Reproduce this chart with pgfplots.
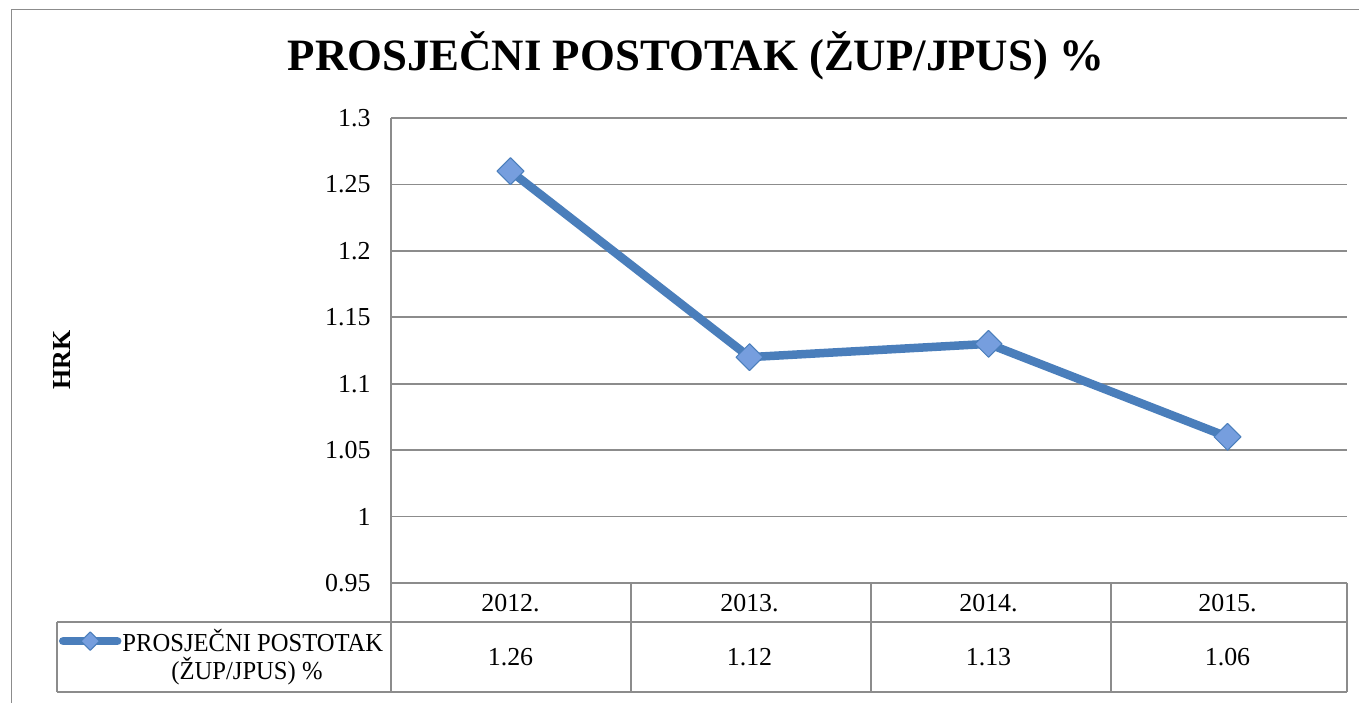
\documentclass[border=0pt]{standalone}
\usepackage{fontspec}
\setmainfont{Liberation Serif}
\newfontfamily\narrow[FakeStretch=0.95]{Liberation Serif}
\usepackage{pgfplots}
\pgfplotsset{compat=1.18}
\definecolor{serie}{RGB}{74,126,187}
\definecolor{mk}{RGB}{118,158,222}
\definecolor{frame}{RGB}{140,140,140}
\newcommand{\tf}{\fontsize{26}{30}\selectfont}
\begin{document}
\begin{tikzpicture}
\path[use as bounding box] (0bp,0bp) rectangle (1359bp,703bp);
\begin{axis}[at={(391bp,120bp)}, anchor=south west, scale only axis,
  width=956bp, height=465bp,
  xmin=-0.5, xmax=3.5, ymin=0.95, ymax=1.3, clip=false,
  /pgf/number format/assume math mode=true,
  xtick={0,1,2,3}, xticklabels={2012.,2013.,2014.,2015.},
  ytick={0.95,1,1.05,1.1,1.15,1.2,1.25,1.3},
  yticklabels={0.95,1,1.05,1.1,1.15,1.2,1.25,1.3},
  major tick length=0pt,
  axis line style={draw=none},
  ymajorgrids, major grid style={line width=1.6bp, draw=frame},
  tick label style={font=\tf},
  yticklabel style={anchor=east, xshift=-17bp},
  xticklabel style={anchor=center, yshift=-20bp},
  ylabel={HRK},
  ylabel style={at={(axis description cs:-0.344,0.48)}, anchor=center, font=\bfseries\tf},
  legend style={at={(-0.3475,-0.125)}, anchor=west, draw=none, fill=none,
    inner sep=0pt, font=\narrow\tf, column sep=0bp, nodes={inner sep=1bp}},
  legend image code/.code={\draw[#1, line cap=round, mark size=6.5bp, mark repeat=2, mark phase=2]
    plot coordinates {(0bp,0bp) (27bp,0bp) (54bp,0bp)};},
]
\addplot[serie, line width=8.5bp, line join=round, mark=square*, mark size=9.5bp,
  mark options={rotate=45, fill=mk, draw=serie, line width=1bp}]
  coordinates {(0,1.26) (1,1.12) (2,1.13) (3,1.06)};
\addlegendentry{PROSJEČNI POSTOTAK}
\addplot[draw=none, mark=none, forget plot, point meta=explicit,
  nodes near coords={\pgfmathprintnumber[fixed,fixed zerofill,precision=2]{\pgfplotspointmeta}},
  every node near coord/.append style={anchor=center, font=\tf, text=black}]
  coordinates {(0,0.8943) [1.26] (1,0.8943) [1.12] (2,0.8943) [1.13] (3,0.8943) [1.06]};
\end{axis}
\begin{scope}[x=1bp, y=1bp]
  \draw[frame, line width=1.6] (57,81) -- (1347,81);
  \draw[frame, line width=1.6] (57,11) -- (1347,11);
  \draw[frame, line width=1.6] (57,81) -- (57,11);
  \draw[frame, line width=1.6] (391,585) -- (391,11);
  \foreach \xx in {631,871,1111,1347} \draw[frame, line width=1.6] (\xx,120) -- (\xx,11);
  \draw[frame, line width=2] (11.5,0) -- (11.5,693.5) -- (1359,693.5);
  \node[font=\narrow\tf, inner sep=0pt] at (247,32) {(ŽUP/JPUS) \%};
  \node[font=\bfseries\fontsize{45}{52}\selectfont, anchor=base, inner sep=0pt] at (696,632)
    {PROSJEČNI POSTOTAK (ŽUP/JPUS) \%};
\end{scope}
\end{tikzpicture}
\end{document}
